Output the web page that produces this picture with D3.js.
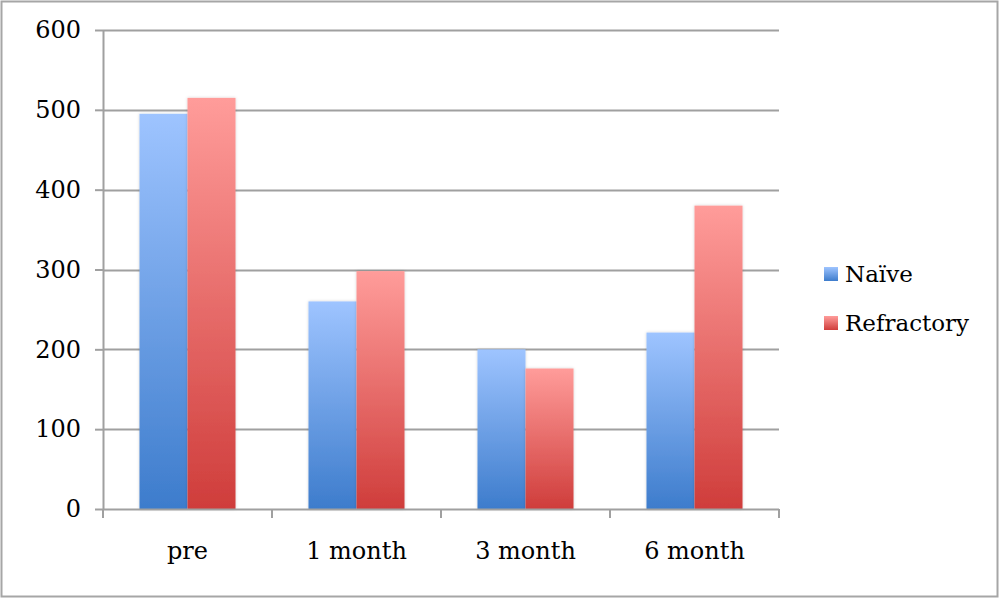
<!DOCTYPE html>
<html><head><meta charset="utf-8">
<script src="https://cdn.jsdelivr.net/npm/d3@7"></script>
<style>body{margin:0;background:#fff}svg{display:block}</style>
</head><body>
<svg id="c" width="1000" height="599"></svg>
<script>
const categories = ["pre", "1 month", "3 month", "6 month"];
const seriesNames = ["Naïve", "Refractory"];
const naive = [495, 260, 200, 221];
const refractory = [515, 298, 176, 380];
const yTicks = [0, 100, 200, 300, 400, 500, 600];

(function () {
const svg = d3.select("#c");
const font = "DejaVu Serif";
const mLeft = 103, mRight = 779, mTop = 30, mBottom = 509;

svg.append("rect").attr("x", 1.5).attr("y", 1.5).attr("width", 996).attr("height", 595)
  .attr("fill", "#fff").attr("stroke", "#a6a6a6").attr("stroke-width", 2);

const defs = svg.append("defs");
const grads = [["gN", "#9ec4ff", "#3d7ccc"], ["gR", "#ff9c9a", "#cf3d3b"]];
grads.forEach(([id, c1, c2]) => {
  const g = defs.append("linearGradient").attr("id", id).attr("x1", 0).attr("y1", 0).attr("x2", 0).attr("y2", 1);
  g.append("stop").attr("offset", "0%").attr("stop-color", c1);
  g.append("stop").attr("offset", "100%").attr("stop-color", c2);
});
const f = defs.append("filter").attr("id", "sh").attr("x", "-20%").attr("y", "-5%").attr("width", "140%").attr("height", "110%");
f.append("feDropShadow").attr("dx", 0).attr("dy", 0).attr("stdDeviation", 1.5).attr("flood-color", "#000").attr("flood-opacity", 0.18);

const y = d3.scaleLinear().domain([0, 600]).range([mBottom, mTop]);
const x = d3.scaleBand().domain(categories).range([mLeft, mRight]).paddingInner(0).paddingOuter(0);
const xs = d3.scaleBand().domain(seriesNames).range([0, x.bandwidth()]).paddingInner(0).paddingOuter(0.76);

svg.append("g").selectAll("line").data(yTicks.filter(d => d > 0)).join("line")
  .attr("x1", mLeft).attr("x2", mRight).attr("y1", d => Math.round(y(d)) + 0.5).attr("y2", d => Math.round(y(d)) + 0.5)
  .attr("stroke", "#a0a0a0").attr("stroke-width", 2);

const data = [naive, refractory];
const fills = ["url(#gN)", "url(#gR)"];
seriesNames.forEach((s, si) => {
  svg.append("g").selectAll("rect").data(categories).join("rect")
    .attr("x", d => x(d) + xs(s))
    .attr("width", xs.bandwidth())
    .attr("y", (d, i) => y(data[si][i]))
    .attr("height", (d, i) => y(0) - y(data[si][i]))
    .attr("fill", fills[si]).attr("filter", "url(#sh)");
});

const ya = svg.append("g").attr("transform", `translate(${mLeft},0)`)
  .call(d3.axisLeft(y).tickValues(yTicks).tickSize(8).tickPadding(14));
ya.select(".domain").attr("stroke", "#a0a0a0").attr("stroke-width", 2).attr("d", `M0.5,${mBottom}V${mTop}`);
ya.selectAll(".tick line").attr("stroke", "#a0a0a0").attr("stroke-width", 2);
ya.selectAll("text").attr("font-family", font).attr("font-size", 24).attr("fill", "#000");

const xa = svg.append("g").attr("transform", `translate(0,${mBottom})`)
  .call(d3.axisBottom(x).tickSize(0).tickPadding(33));
xa.select(".domain").attr("stroke", "#a0a0a0").attr("stroke-width", 2).attr("d", `M${mLeft},0.5H${mRight}`);
xa.selectAll("text").attr("font-family", font).attr("font-size", 24).attr("fill", "#000");
svg.append("g").selectAll("line").data(categories.concat(["_end"])).join("line")
  .attr("x1", (d, i) => i < categories.length ? x(d) : mRight)
  .attr("x2", (d, i) => i < categories.length ? x(d) : mRight)
  .attr("y1", mBottom).attr("y2", mBottom + 9)
  .attr("stroke", "#a0a0a0").attr("stroke-width", 2);

const lg = svg.append("g").attr("transform", "translate(824,267)");
seriesNames.forEach((s, i) => {
  const g = lg.append("g").attr("transform", `translate(0,${i * 49})`);
  g.append("rect").attr("width", 14).attr("height", 14).attr("fill", fills[i]);
  g.append("text").attr("x", 21).attr("y", 15).attr("font-family", font).attr("font-size", 23).attr("fill", "#000").text(s);
});
})();
</script>
</body></html>
